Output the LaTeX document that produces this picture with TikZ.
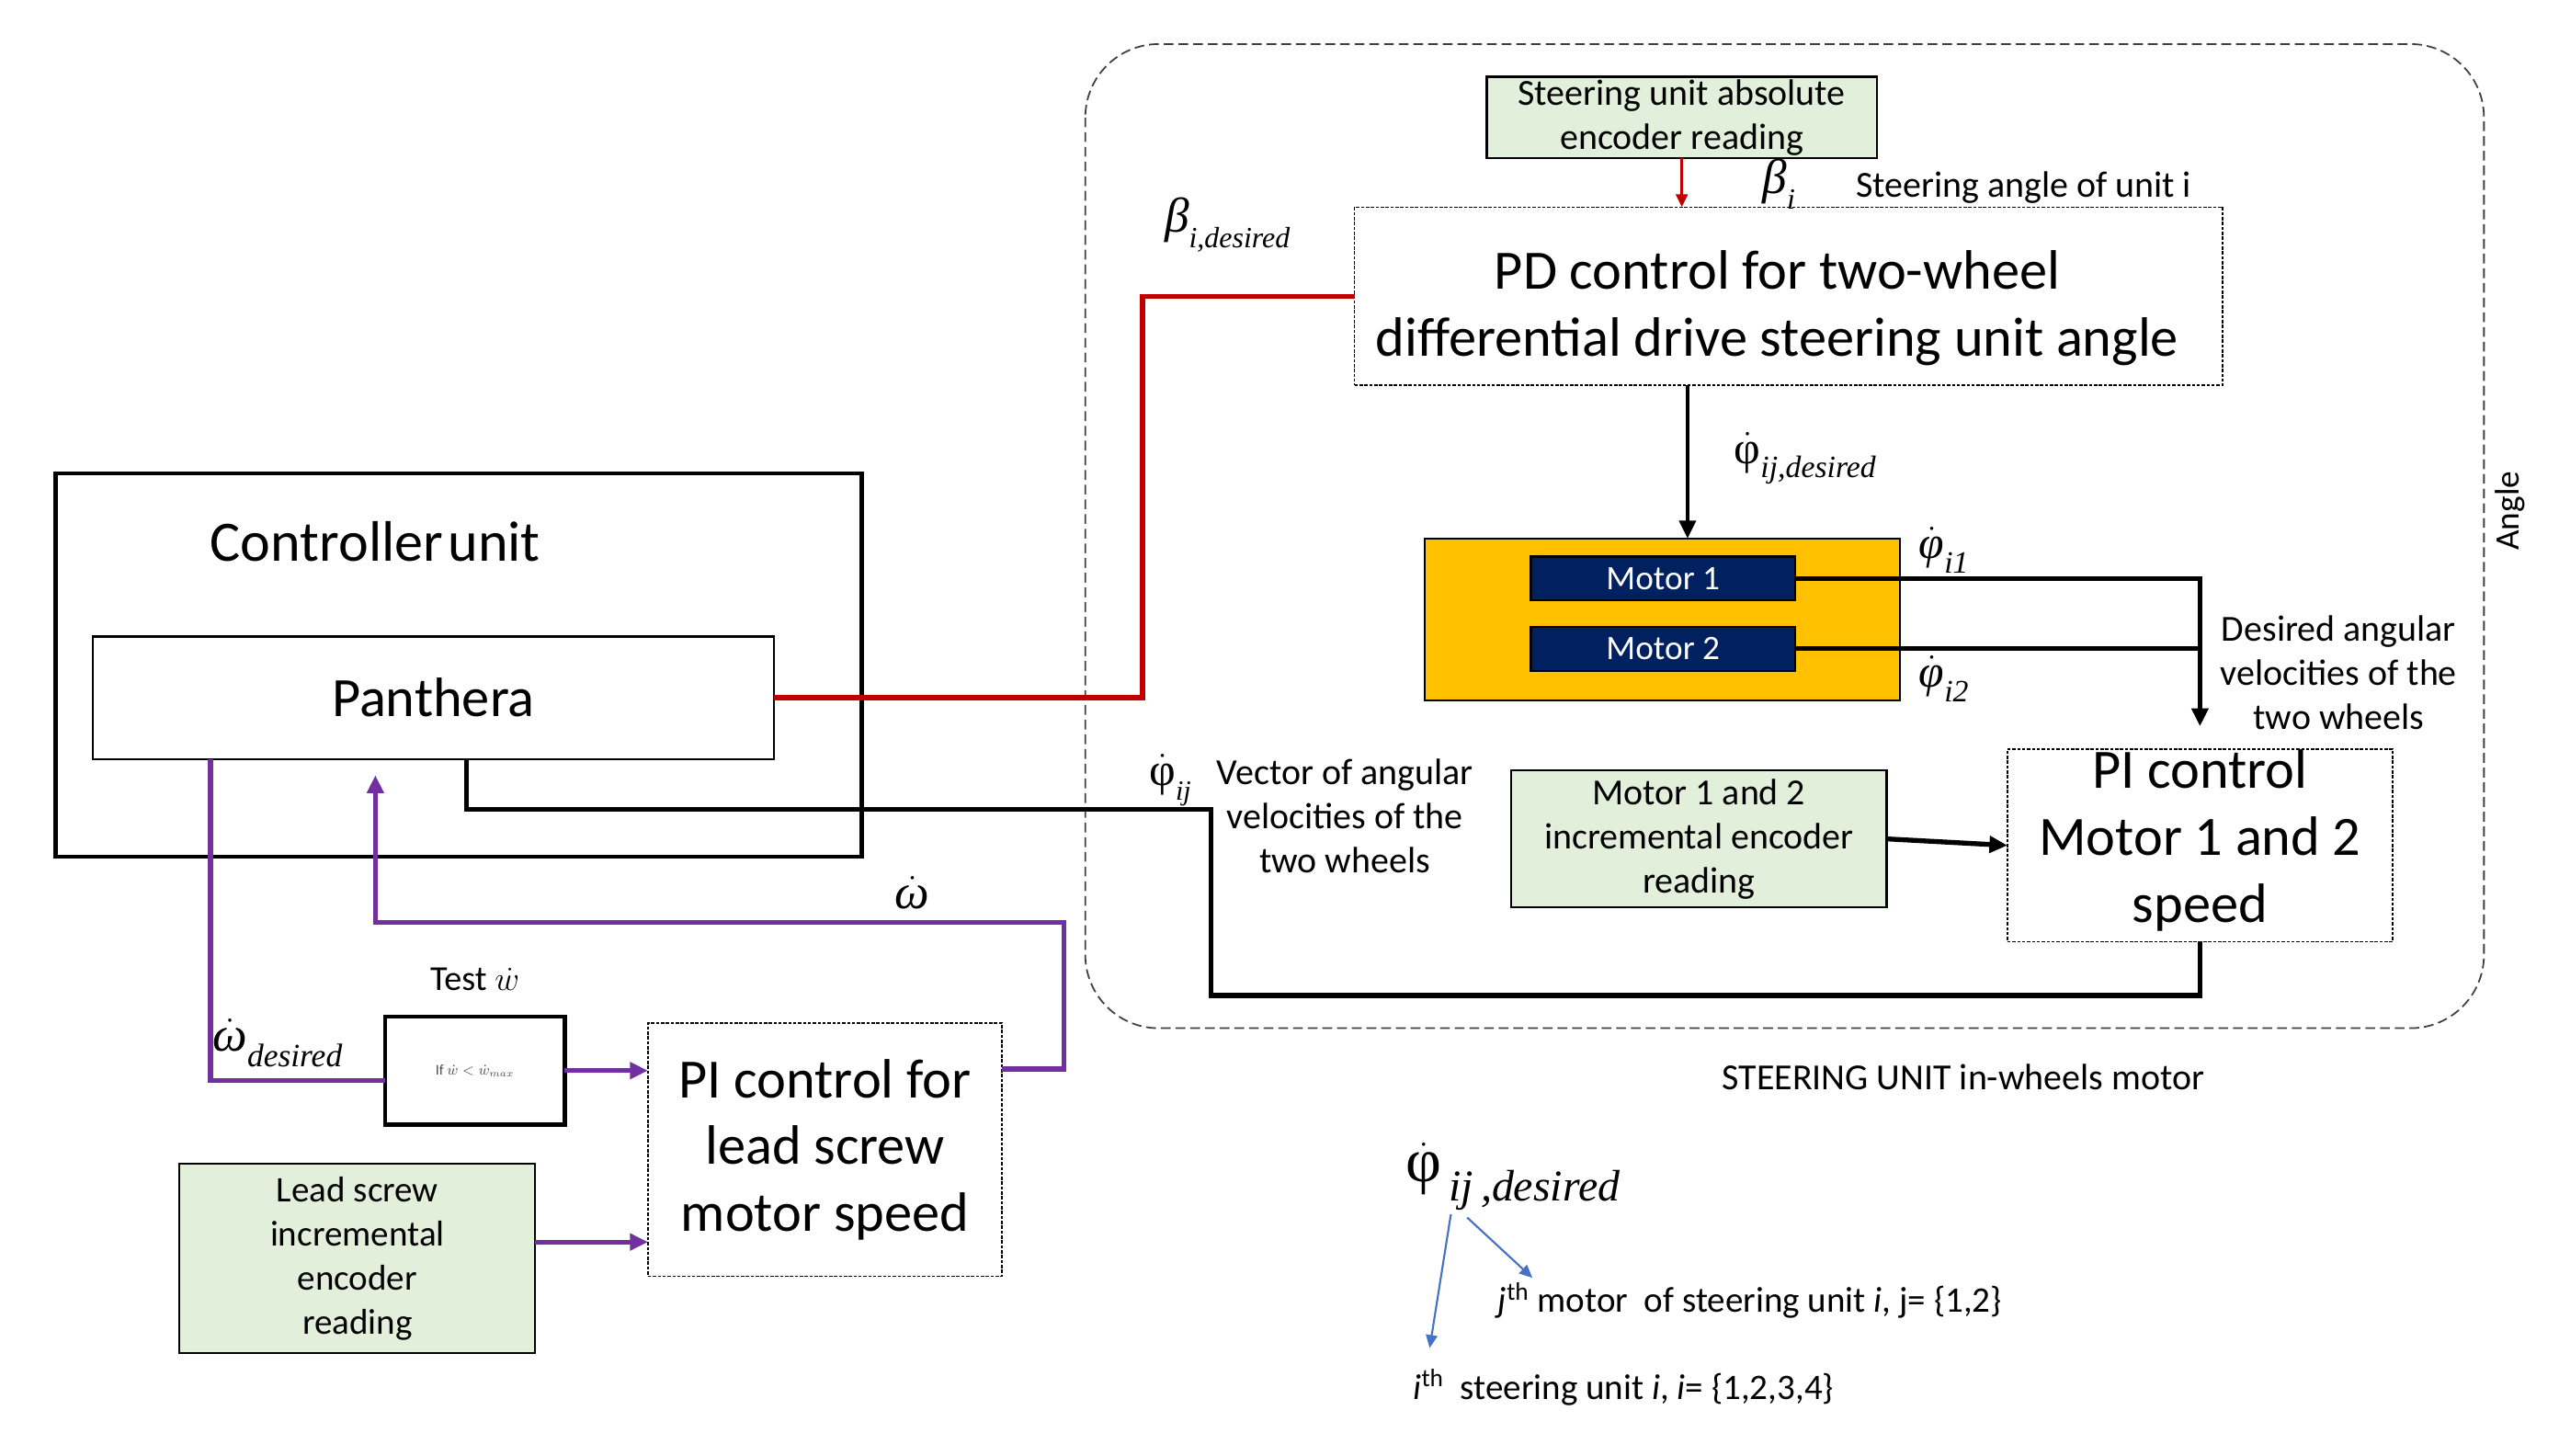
\documentclass[tikz,border=0pt]{standalone}
\usepackage{fontspec}
\setmainfont{Carlito}
\newfontfamily\lsr{Liberation Serif}
\usetikzlibrary{arrows.meta,calc}
\definecolor{cred}{HTML}{C00000}
\definecolor{cpurple}{HTML}{7030A0}
\definecolor{corange}{HTML}{FFC000}
\definecolor{cnavy}{HTML}{002060}
\definecolor{cgreen}{HTML}{E2EFDA}
\definecolor{cblue}{HTML}{4472C4}
\newcommand{\fs}[2]{\fontsize{#1}{#2}\selectfont}
% dotted symbol: #1 = glyph (already in a font)
\newcommand{\dotsym}[1]{\ensuremath{\dot{\hbox{#1}}}}
% subscript: #1 size, #2 text
\newcommand{\subtx}[2]{\raisebox{-0.32em}{\fs{#1}{#1}\lsr\itshape #2}}
\begin{document}
\begin{tikzpicture}[x=1pt,y=-1pt,
  every node/.style={inner sep=0pt, outer sep=0pt},
  greenbox/.style={draw=black, line width=1.2pt, fill=cgreen, align=center},
  dotbox/.style={draw=black, line width=0.9pt, dash pattern=on 2pt off 1pt, fill=white, align=center},
  motorbox/.style={draw=black, line width=1.2pt, fill=cnavy, text=white, font=\fs{21}{24}},
  plainbox/.style={draw=black, align=center},
  lbl/.style={align=center},
  redline/.style={draw=cred, line width=3pt},
  blkline/.style={draw=black, line width=3pt},
  purline/.style={draw=cpurple, line width=3pt},
  tip/.style={-{Triangle[length=11pt,width=10pt]}},
  smalltip/.style={-{Triangle[length=8pt,width=7pt]}}
]
\useasboundingbox (0,0) rectangle (1568,892);

% steering unit dashed frame
\draw[black!75, line width=1pt, dash pattern=on 6pt off 3pt, rounded corners=45pt] (665,27) rectangle (1522,630);
\node[rotate=90, font=\fs{21}{24}] (angle) at (1538,313) {Angle};
\node[font=\fs{22.5}{26}] (stlabel) at (1203,660) {STEERING UNIT in-wheels motor};

% top part
\node[greenbox, minimum width=239pt, minimum height=50pt, font=\fs{22.5}{27}] (enc1) at (1030.5,72) {Steering unit absolute\\encoder reading};
\node[dotbox, minimum width=532pt, minimum height=109pt] (pd) at (1096,181.5) {};
\node[lbl, font=\fs{34}{41}] (pdtxt) at (1089,189) {PD control for two-wheel\\differential drive steering unit angle};
\node[font=\fs{30}{32}] (bi) at (1090,113) {{\lsr\itshape β}\subtx{18}{i}};
\node[font=\fs{22.5}{26}] (sa) at (1240,115) {Steering angle of unit i};
\node[font=\fs{30}{32}] (bid) at (752,138) {{\lsr\itshape β}\subtx{18}{i,desired}};

% motors
\node[draw=black, line width=1.2pt, fill=corange, minimum width=291pt, minimum height=99pt] (orange) at (1018.5,379.5) {};
\node[motorbox, minimum width=162pt, minimum height=27pt] (m1) at (1019,354.5) {Motor 1};
\node[motorbox, minimum width=162pt, minimum height=27pt] (m2) at (1019,397.5) {Motor 2};
\node[font=\fs{28}{30}] (phid) at (1106,281) {\dotsym{\lsr φ}\subtx{19}{ij,desired}};
\node[font=\fs{28}{30}] (phi1) at (1191,337) {\dotsym{\lsr\itshape φ}\subtx{19}{i1}};
\node[font=\fs{28}{30}] (phi2) at (1191,416) {\dotsym{\lsr\itshape φ}\subtx{19}{i2}};
\node[lbl, font=\fs{22.5}{27}] (dav) at (1433,412) {Desired angular\\velocities of the\\two wheels};

% PI motor speed
\node[dotbox, minimum width=236pt, minimum height=118pt] (pir) at (1348,518) {};
\node[lbl, font=\fs{34}{41}] (pirtxt) at (1348,515) {PI control\\Motor 1 and 2\\speed};
\node[greenbox, minimum width=230pt, minimum height=84pt, font=\fs{22.5}{27}] (enc2) at (1041,514) {Motor 1 and 2\\incremental encoder\\reading};
\node[font=\fs{28}{30}] (phiij) at (717,478) {\dotsym{\lsr φ}\subtx{17}{ij}};
\node[lbl, font=\fs{22.5}{27}] (vav) at (824,500) {Vector of angular\\velocities of the\\two wheels};

% controller
\node[draw=black, line width=2.5pt, minimum width=494pt, minimum height=235pt] (ctrl) at (281,407.5) {};
\node[font=\fs{35}{38}] (ctrltxt) at (230,332) {Controller\hspace{3pt}unit};
\node[plainbox, line width=1.2pt, fill=white, minimum width=417pt, minimum height=75pt, font=\fs{34}{38}] (panth) at (265.5,427.5) {Panthera};

% lead screw part
\node[draw=black, line width=2.5pt, fill=white, minimum width=110pt, minimum height=66pt, font=\fs{9}{10}, text=black!70] (test) at (291,656) {If $\dot{w} < \dot{w}_{max}$};
\node[font=\fs{21.5}{24}] (testlbl) at (291,600) {Test $\dot{w}$};
\node[dotbox, minimum width=217pt, minimum height=155pt, font=\fs{34}{41}] (pil) at (505.5,704.5) {PI control for\\lead screw\\motor speed};
\node[greenbox, minimum width=218pt, minimum height=116pt, font=\fs{22}{27}] (enc3) at (219,771) {Lead screw\\incremental\\encoder\\reading};
\node[font=\fs{30}{32}] (wd) at (170,639) {\dotsym{\lsr\itshape ω}\subtx{20}{desired}};
\node[font=\fs{30}{32}] (w) at (559,547) {\dotsym{\lsr\itshape ω}};

% legend
\node[font=\fs{38}{40}] (leg) at (927,721) {\dotsym{\lsr φ}\subtx{27}{\,ij\,,desired}};
\node[anchor=west, font=\fs{22}{24}] (legj) at (918,797) {{\itshape j}\textsuperscript{th} motor~ of steering unit {\itshape i}, j= \{1,2\}};
\node[anchor=west, font=\fs{22}{24}] (legi) at (866,850) {{\itshape i}\textsuperscript{th}\ \ steering unit {\itshape i}, {\itshape i}= \{1,2,3,4\}};
\coordinate (la) at (889,744);
\coordinate (lb) at (899,746);
\draw[cblue, line width=1.2pt, smalltip] (la) -- (876,826);
\draw[cblue, line width=1.2pt, smalltip] (lb) -- (939,783);

% connectors
\draw[redline] (panth.east) -- (700,427.5) |- (pd.west);
\draw[cred, line width=2pt, smalltip] (enc1.south) -- (enc1.south |- pd.north);
\draw[black, line width=2.5pt, tip] ([xshift=-62pt]pd.south) -- ([xshift=-62pt]pd.south |- orange.north);
\draw[blkline, tip] (m1.east) -| ([yshift=14pt]pir.north);
\draw[blkline] (m2.east) -- (m2.east -| pir.north);
\draw[blkline, tip] (enc2.east) -- (pir.west);
\draw[blkline] ([xshift=20.5pt]panth.south) |- (742,496) -- (742,610) -| (pir.south);

\draw[purline] ([xshift=-136.5pt]panth.south) |- ([yshift=-6pt]test.west);
\draw[purline, tip] (test.east) -- (test.east -| pil.west);
\draw[purline, tip] ([yshift=49.5pt]pil.east) -| (652,565) -| ([xshift=-35.5pt,yshift=-10pt]panth.south);
\draw[purline, tip] ([yshift=10pt]enc3.east) -- ([yshift=10pt]enc3.east -| pil.west);
\end{tikzpicture}
\end{document}
